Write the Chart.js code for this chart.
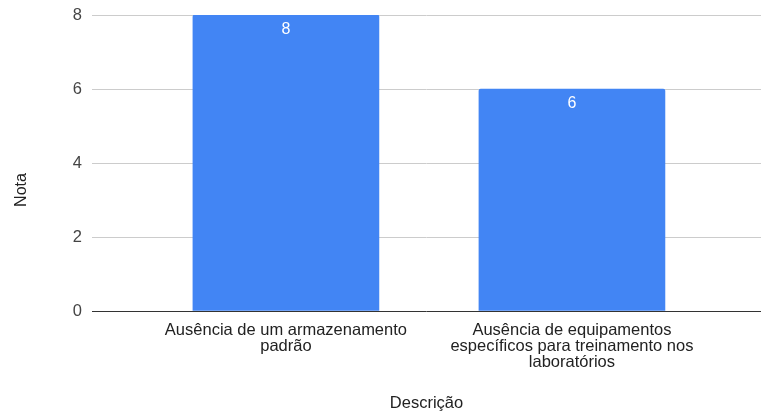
<!DOCTYPE html>
<html>
<head>
<meta charset="utf-8">
<script src="https://cdn.jsdelivr.net/npm/chart.js@4"></script>
<style>
  html, body { margin: 0; padding: 0; background: #fff; }
  #wrap { width: 761px; height: 418px; }
</style>
</head>
<body>
<div id="wrap"><canvas id="c" width="761" height="418"></canvas></div>
<script>
const categories = [
  ['Ausência de um armazenamento', 'padrão'],
  ['Ausência de equipamentos', 'específicos para treinamento nos', 'laboratórios']
];
const notas = [8, 6];
const yTicks = [0, 2, 4, 6, 8];
const xTitle = 'Descrição';
const yTitle = 'Nota';

const FONT = "Arial, 'Liberation Sans', sans-serif";

// white value printed just inside the top of each bar
const barValueLabels = {
  id: 'barValueLabels',
  afterDatasetsDraw(chart) {
    const ctx = chart.ctx;
    const meta = chart.getDatasetMeta(0);
    ctx.save();
    ctx.fillStyle = '#ffffff';
    ctx.font = '16px ' + FONT;
    ctx.textAlign = 'center';
    ctx.textBaseline = 'middle';
    meta.data.forEach((bar, i) => {
      ctx.fillText(String(notas[i]), bar.x, bar.y + 15);
    });
    ctx.restore();
  }
};

// vertical axis title, placed a little below the middle of the plot
const yAxisTitle = {
  id: 'yAxisTitle',
  afterDraw(chart) {
    const ctx = chart.ctx;
    ctx.save();
    ctx.translate(22, 190);
    ctx.rotate(-Math.PI / 2);
    ctx.fillStyle = '#222';
    ctx.font = '16px ' + FONT;
    ctx.textAlign = 'center';
    ctx.textBaseline = 'middle';
    ctx.fillText(yTitle, 0, 0);
    ctx.restore();
  }
};

new Chart(document.getElementById('c'), {
  type: 'bar',
  data: {
    datasets: [{
      data: notas.map((v, i) => ({ x: i, y: v })),
      backgroundColor: '#4285F4',
      barThickness: 186,
      borderRadius: { topLeft: 2, topRight: 2 },
      borderSkipped: 'bottom'
    }]
  },
  options: {
    responsive: false,
    animation: false,
    layout: { padding: { top: 15, right: 0, left: 0, bottom: 0 } },
    plugins: { legend: { display: false }, tooltip: { enabled: false } },
    scales: {
      x: {
        type: 'linear',
        offset: false,
        min: -0.678,
        max: 1.661,
        afterBuildTicks(scale) { scale.ticks = categories.map((_, i) => ({ value: i })); },
        afterFit(scale) { scale.height = 107; scale.paddingLeft = 0; scale.paddingRight = 0; },
        grid: { display: false, drawTicks: false, offset: false },
        border: { display: false },
        ticks: {
          autoSkip: false,
          maxRotation: 0,
          minRotation: 0,
          padding: 11,
          color: '#222',
          font: { family: FONT, size: 16.5, lineHeight: '16px' },
          callback: (v) => categories[v]
        },
        title: {
          display: true,
          text: xTitle,
          color: '#222',
          font: { family: FONT, size: 16.5 },
          padding: { top: 0, bottom: 5 }
        }
      },
      y: {
        min: 0,
        max: 8,
        afterBuildTicks(scale) { scale.ticks = yTicks.map(v => ({ value: v })); },
        afterFit(scale) { scale.width = 92; scale.paddingTop = 0; scale.paddingBottom = 0; },
        grid: {
          drawTicks: false,
          color: (c) => (c.tick && c.tick.value === 0 ? '#333333' : '#cccccc'),
          lineWidth: 1
        },
        border: { display: false },
        ticks: {
          padding: 10,
          color: '#444',
          font: { family: FONT, size: 16.5 }
        },
        title: { display: false }
      }
    }
  },
  plugins: [barValueLabels, yAxisTitle]
});
</script>
</body>
</html>
